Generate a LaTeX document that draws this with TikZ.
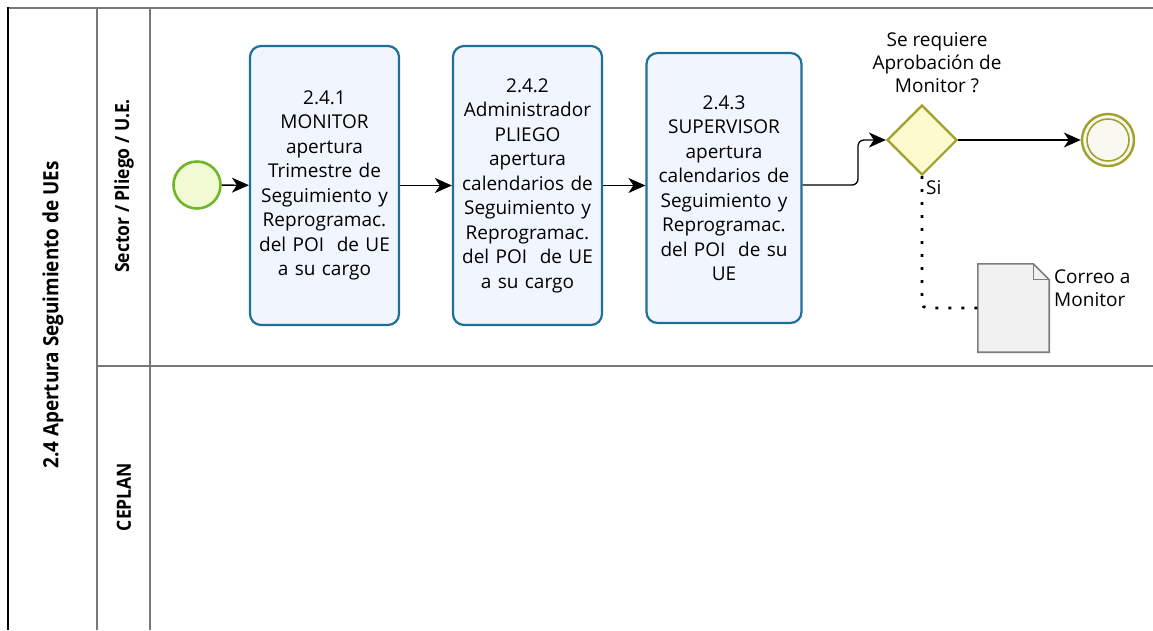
\documentclass[tikz,border=0pt]{standalone}
\usepackage{fontspec}
\setmainfont{Open Sans}
\newfontfamily\lanefont{Open Sans}[FakeStretch=0.9]
\usetikzlibrary{shapes.geometric,arrows.meta,calc}
\definecolor{taskblue}{RGB}{30,112,155}
\definecolor{taskfill}{RGB}{241,245,253}
\definecolor{startgreen}{RGB}{112,182,40}
\definecolor{startfill}{RGB}{242,250,212}
\definecolor{olive}{RGB}{160,160,45}
\definecolor{gwfill}{RGB}{251,251,205}
\definecolor{endfill}{RGB}{249,249,242}
\definecolor{docline}{RGB}{125,125,125}
\definecolor{docfill}{RGB}{241,241,241}
\definecolor{lanegray}{RGB}{120,120,120}
\tikzset{
  task/.style={draw=taskblue, line width=2.2pt, rounded corners=11pt, fill=taskfill,
    minimum width=149pt, minimum height=279pt, align=center, text width=147pt,
    inner sep=0pt, font=\fontsize{19pt}{24.5pt}\selectfont},
  flow/.style={draw=black, line width=1.3pt, -{Stealth[length=17pt,width=15pt,inset=5pt]}},
  assoc/.style={draw=black, line width=2.8pt, dash pattern=on 2.8pt off 10.2pt},
  laneline/.style={draw=lanegray, line width=2pt},
  lanelabel/.style={rotate=90, font=\lanefont\bfseries\fontsize{19.5pt}{22pt}\selectfont},
  plain/.style={align=center, font=\fontsize{19pt}{23pt}\selectfont, inner sep=0pt},
}
\begin{document}
\begin{tikzpicture}[x=1pt,y=-1pt]
\useasboundingbox (0,0) rectangle (1153,630);
% pool and lanes
\draw[laneline] (8,8) -- (1153,8);
\draw[black, line width=1.6pt] (8,7) -- (8,630);
\draw[laneline] (97,8) -- (97,630);
\draw[laneline] (150,8) -- (150,630);
\draw[laneline] (97,366) -- (1153,366);
\node[lanelabel, font=\lanefont\bfseries\fontsize{21pt}{24pt}\selectfont] (pool) at (53,315) {2.4 Apertura Seguimiento de UEs};
\node[lanelabel] (lane1) at (124,186) {Sector / Pliego / U.E.};
\node[lanelabel] (lane2) at (124,497) {CEPLAN};
% start event
\node[circle, draw=startgreen, line width=2.6pt, fill=startfill, minimum size=47pt, inner sep=0pt] (start) at (197,185) {};
% tasks
\node[task] (t1) at (324.5,185.5) {2.4.1\\MONITOR\\apertura\\Trimestre de\\Seguimiento y\\Reprogramac.\\del POI\ \ de UE\\a su cargo};
\node[task] (t2) at (527.5,185.5) {2.4.2\\Administrador\\PLIEGO\\apertura\\calendarios de\\Seguimiento y\\Reprogramac.\\del POI\ \ de UE\\a su cargo};
\node[task, minimum width=155pt, minimum height=270pt] (t3) at (724,188) {2.4.3\\SUPERVISOR\\apertura\\calendarios de\\Seguimiento y\\Reprogramac.\\del POI\ \ de su\\UE};
% gateway
\node[diamond, draw=olive, line width=2.2pt, fill=gwfill, minimum width=70pt, minimum height=70pt, inner sep=0pt] (gw) at (922,140) {};
\node[plain] (gwlabel) at (937,63) {Se requiere\\Aprobación de\\Monitor ?};
% end event
\node[circle, draw=olive, line width=2.4pt, fill=endfill, minimum size=52pt, inner sep=0pt] (end) at (1108,140) {};
\node[circle, draw=olive, line width=1.6pt, minimum size=42pt, inner sep=0pt] (endin) at (1108,140) {};
% document
\node[minimum width=71pt, minimum height=88pt, inner sep=0pt] (doc) at (1013.5,308) {};
\draw[docline, line width=1.6pt, fill=docfill]
  (doc.north west) -- ($(doc.north east)+(-16,0)$) -- ($(doc.north east)+(0,16)$) -- (doc.south east) -- (doc.south west) -- cycle;
\draw[docline, line width=1pt] ($(doc.north east)+(-16,0)$) -- ($(doc.north east)+(-16,16)$) -- ($(doc.north east)+(0,16)$);
\node[plain, align=left, anchor=west] (doclabel) at (1054,288) {Correo a\\Monitor};
% flows
\draw[flow] (start) -- (t1);
\draw[flow] (t1) -- (t2.west |- t1.east);
\draw[flow] (t2.east |- t1.east) -- (t3.west |- t1.east);
\coordinate (bend) at (858,185);
\draw[flow, rounded corners=6pt] (t3.east |- bend) -- (bend) |- (gw.west);
\draw[flow] (gw.east) -- (end.west);
\draw[assoc, rounded corners=5pt] (gw.south) |- (doc.west);
\node[plain, anchor=west] (si) at (926,188) {Si};
\end{tikzpicture}
\end{document}
